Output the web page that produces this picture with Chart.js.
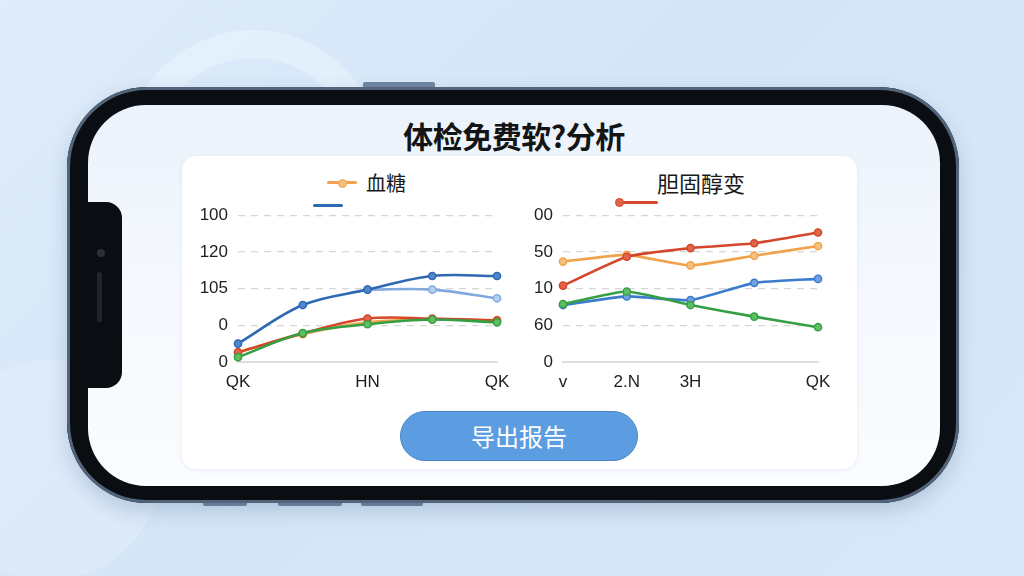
<!DOCTYPE html>
<html>
<head>
<meta charset="utf-8">
<script src="https://cdn.jsdelivr.net/npm/chart.js@4.4.0/dist/chart.umd.min.js"></script>
<style>
    html, body { margin: 0; padding: 0; }
    body {
        width: 1024px; height: 576px; overflow: hidden; position: relative;
        background: linear-gradient(135deg, #dfedfb 0%, #d4e5f7 45%, #d9e8f8 100%);
        font-family: "Noto Sans CJK SC", "Noto Sans", sans-serif;
    }
    .ring { position: absolute; border-radius: 50%; }
    .phone {
        position: absolute; left: 67px; top: 87px; width: 892px; height: 416px;
        border-radius: 80px; background: #0a0d12;
        box-shadow: inset 0 0 0 3px #52647a, 0 8px 20px rgba(50, 80, 120, 0.22);
    }
    .screen {
        position: absolute; left: 21px; top: 18px; width: 852px; height: 381px;
        border-radius: 58px; overflow: hidden;
        background: linear-gradient(180deg, #eaf2fb 0%, #f4f8fd 40%, #fafcfe 100%);
    }
    .notch {
        position: absolute; left: 0; top: 97px; width: 34px; height: 186px;
        background: #0a0d12; border-radius: 0 16px 16px 0;
    }
    .btn-side { position: absolute; background: #6f86a0; border-radius: 2px; }
    .card {
        position: absolute; left: 182px; top: 156px; width: 675px; height: 313px;
        background: #fff; border-radius: 14px;
        box-shadow: 0 1px 4px rgba(120, 150, 190, 0.15);
    }
    .title {
        position: absolute; left: 0; width: 1028px; top: 113px; text-align: center;
        font-size: 30px; font-weight: 700; color: #141414; letter-spacing: -0.5px;
    }
    .legend-text { position: absolute; color: #1a1a1a; font-size: 20px; line-height: 24px; }
    .leg-line { position: absolute; height: 3px; border-radius: 2px; }
    .leg-dot { position: absolute; width: 7px; height: 7px; border-radius: 50%; }
    canvas { position: absolute; }
    .export {
        position: absolute; left: 400px; top: 411px; width: 236px; height: 48px;
        border-radius: 25px; background: #5c9ce0; border: 1.5px solid #4a86ca;
        color: #fff; font-size: 24px; text-align: center; line-height: 48px;
    }
</style>
</head>
<body>
<div class="ring" style="left:125px; top:30px; width:200px; height:200px; border:28px solid rgba(235,244,253,0.55);"></div>
<div class="ring" style="left:-60px; top:360px; width:220px; height:220px; background:rgba(230,240,252,0.4);"></div>

<div class="btn-side" style="left:363px; top:82px; width:72px; height:6px;"></div>
<div class="btn-side" style="left:203px; top:500px; width:44px; height:6px;"></div>
<div class="btn-side" style="left:278px; top:500px; width:64px; height:6px;"></div>
<div class="btn-side" style="left:361px; top:500px; width:62px; height:6px;"></div>

<div class="phone">
    <div class="screen">
        <div class="notch"></div>
    </div>
    <div style="position:absolute; left:30px; top:162px; width:8px; height:8px; border-radius:50%; background:#2a3038;"></div>
    <div style="position:absolute; left:30px; top:185px; width:5px; height:50px; border-radius:3px; background:#1f252d;"></div>
</div>

<div class="title">体检免费软?分析</div>
<div class="card"></div>

<!-- left legend -->
<div class="leg-line" style="left:327px; top:181px; width:30px; background:#f0a24c;"></div>
<div class="leg-dot" style="left:338px; top:179px; background:#f7c07e; border:1px solid #f0a24c;"></div>
<div class="legend-text" style="left:366px; top:171px;">血糖</div>
<div class="leg-line" style="left:313px; top:204px; width:30px; background:#2f68b3;"></div>

<!-- right legend -->
<div class="legend-text" style="left:657px; top:170px; font-size:22px;">胆固醇变</div>
<div class="leg-line" style="left:617px; top:201px; width:41px; background:#d4472a;"></div>
<div class="leg-dot" style="left:615px; top:198px; background:#e0654a; border:1px solid #d4472a;"></div>

<canvas id="leftChart" width="330" height="200" style="left:190px; top:195px; width:330px; height:200px;"></canvas>
<canvas id="rightChart" width="340" height="200" style="left:510px; top:195px; width:340px; height:200px;"></canvas>

<div class="export">导出报告</div>

<script>
// left chart
const leftLabels = ['QK', '', 'HN', '', 'QK'];
const leftTicks = ['0', '0', '105', '120', '100'];
const leftGreen = [3.3, 19.7, 25.7, 28.9, 27.0];
const leftRed = [6.6, 19.5, 29.6, 29.6, 28.3];
const leftOrange = [6.6, 19.0, 27.0, 29.0, 28.5];
const leftDarkBlue = [12.5, 38.8, 49.3, 58.6, 58.6];
const leftLightBlue = [null, null, 49.3, 49.3, 43.4];

// right chart
const rightLabels = ['v', '2.N', '3H', '', 'QK'];
const rightTicks = ['0', '60', '10', '50', '00'];
const rightGreen = [39.5, 48.0, 38.8, 30.9, 23.7];
const rightBlue = [38.8, 44.7, 42.1, 53.9, 56.6];
const rightRed = [52.0, 71.7, 77.6, 80.9, 88.2];
const rightOrange = [68.4, 73.0, 65.8, 72.4, 79.0];

const tickFont = { family: '"Liberation Sans", Arial, sans-serif', size: 17 };

const line = (data, color, fill, tension) => ({
    data: data,
    borderColor: color,
    backgroundColor: color,
    pointBackgroundColor: fill,
    pointBorderColor: color,
    pointBorderWidth: 1.5,
    pointRadius: 3.6,
    borderWidth: 2.6,
    tension: tension,
    fill: false
});

const makeOptions = (ticks, yWidth, padRight) => ({
    responsive: false,
    animation: false,
    layout: { padding: { top: 15, right: padRight, left: 0, bottom: 0 } },
    plugins: { legend: { display: false }, tooltip: { enabled: false } },
    scales: {
        x: {
            grid: { display: false, drawTicks: false },
            border: { display: true, color: '#dedede', width: 2 },
            ticks: { color: '#1e1e1e', font: tickFont, padding: 10, autoSkip: false, maxRotation: 0 },
            afterFit: (s) => { s.height = 33; }
        },
        y: {
            min: 0, max: 100,
            grid: {
                drawTicks: false,
                color: (ctx) => (ctx.tick && ctx.tick.value === 0) ? 'rgba(0,0,0,0)' : '#d6d6d6',
                lineWidth: 1.3
            },
            border: { display: false, dash: [7, 6] },
            ticks: {
                stepSize: 25, color: '#1e1e1e', font: tickFont, padding: 10,
                callback: (v, i) => ticks[i]
            },
            afterFit: (s) => { s.width = yWidth; }
        }
    }
});

new Chart(document.getElementById('leftChart').getContext('2d'), {
    type: 'line',
    data: {
        labels: leftLabels,
        datasets: [
            line(leftGreen, '#35a043', '#5cbf62', 0.35),
            line(leftRed, '#d4472a', '#e0654a', 0.35),
            line(leftOrange, '#f0a24c', '#f7c07e', 0.35),
            line(leftDarkBlue, '#2f68b3', '#4f86cc', 0.35),
            line(leftLightBlue, '#80a9dd', '#b4cff0', 0.35)
        ]
    },
    options: makeOptions(leftTicks, 48, 23)
});

new Chart(document.getElementById('rightChart').getContext('2d'), {
    type: 'line',
    data: {
        labels: rightLabels,
        datasets: [
            line(rightGreen, '#35a043', '#5cbf62', 0.15),
            line(rightBlue, '#3b7ccc', '#6ea2e2', 0.15),
            line(rightRed, '#d4472a', '#e0654a', 0.15),
            line(rightOrange, '#f0a24c', '#f7c07e', 0.15)
        ]
    },
    options: makeOptions(rightTicks, 53, 32)
});
</script>
</body>
</html>
